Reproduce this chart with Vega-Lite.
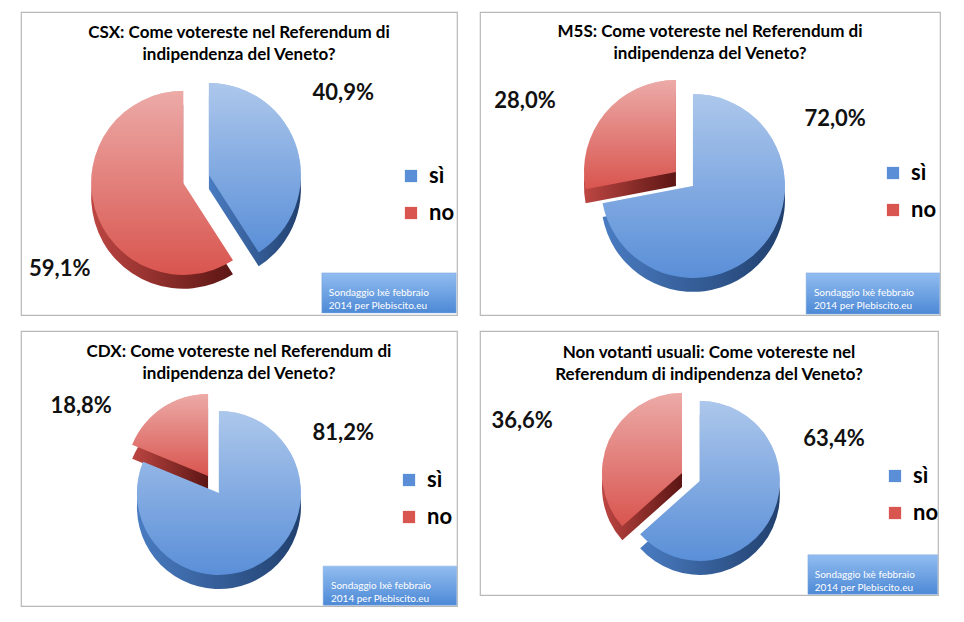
{
  "$schema": "https://vega.github.io/schema/vega-lite/v6.json",
  "background": "white",
  "padding": {"left": 20, "top": 11, "right": 4, "bottom": 4},
  "columns": 2,
  "spacing": {"row": 14, "column": 21},
  "resolve": {"scale": {"color": "independent"}, "legend": {"color": "independent"}},
  "concat": [
    {
      "width": 436,
      "height": 303,
      "data": {"values": [{"answer": "sì", "value": 0.409}, {"answer": "no", "value": 0.591}]},
      "transform": [{"stack": "value", "groupby": [], "sort": [{"field": "answer", "order": "descending"}], "as": ["t0", "t1"]}],
      "layer": [
        {
          "transform": [{"filter": "datum.answer === 'no'"}],
          "encoding": {
            "x": {"datum": 37.2, "type": "quantitative", "scale": {"domain": [0, 100]}},
            "theta": {"field": "t0", "type": "quantitative", "scale": {"domain": [0, 1]}},
            "theta2": {"field": "t1"}
          },
          "layer": [
            {"mark": {"type": "arc", "radius": 92, "fill": {"gradient": "linear", "x1": 0, "y1": 0, "x2": 1, "y2": 0, "stops": [{"offset": 0, "color": "#bd4642"}, {"offset": 1, "color": "#5c1614"}]}},
             "encoding": {"y": {"datum": 61.0, "type": "quantitative", "scale": {"domain": [0, 100], "reverse": true}}}},
            {"mark": {"type": "arc", "radius": 92},
             "encoding": {"y": {"datum": 56.4, "type": "quantitative"},
               "color": {"field": "answer", "type": "nominal", "scale": {"domain": ["sì", "no"], "range": ["#5a8fd8", "#d9554f"]}, "legend": {"orient": "none", "legendX": 379, "legendY": 153}}}},
            {"mark": {"type": "arc", "radius": 92, "fill": {"gradient": "linear", "x1": 0, "y1": 0, "x2": 0, "y2": 1, "stops": [{"offset": 0, "color": "rgba(255,255,255,0.5)"}, {"offset": 1, "color": "rgba(255,255,255,0)"}]}},
             "encoding": {"y": {"datum": 56.4, "type": "quantitative"}}}
          ]
        },
        {
          "transform": [{"filter": "datum.answer === 'sì'"}],
          "encoding": {
            "x": {"datum": 43.1, "type": "quantitative"},
            "theta": {"field": "t0", "type": "quantitative"},
            "theta2": {"field": "t1"}
          },
          "layer": [
            {"mark": {"type": "arc", "radius": 92, "fill": {"gradient": "linear", "x1": 0, "y1": 0, "x2": 1, "y2": 0, "stops": [{"offset": 0, "color": "#4a7cc2"}, {"offset": 1, "color": "#21406e"}]}},
             "encoding": {"y": {"datum": 58.4, "type": "quantitative"}}},
            {"mark": {"type": "arc", "radius": 92},
             "encoding": {"y": {"datum": 53.8, "type": "quantitative"},
               "color": {"field": "answer", "type": "nominal", "scale": {"domain": ["sì", "no"], "range": ["#5a8fd8", "#d9554f"]}, "legend": {"orient": "none", "legendX": 379, "legendY": 153}}}},
            {"mark": {"type": "arc", "radius": 92, "fill": {"gradient": "linear", "x1": 0, "y1": 0, "x2": 0, "y2": 1, "stops": [{"offset": 0, "color": "rgba(255,255,255,0.5)"}, {"offset": 1, "color": "rgba(255,255,255,0)"}]}},
             "encoding": {"y": {"datum": 53.8, "type": "quantitative"}}}
          ]
        },
        {
          "transform": [{"filter": "datum.answer === 'sì'"}],
          "mark": {"type": "text", "text": ["CSX: Come votereste nel Referendum di", "indipendenza del Veneto?"], "align": "center", "baseline": "top", "fontSize": 17, "fontWeight": "bold", "lineHeight": 22, "fill": "#000000"},
          "encoding": {"x": {"datum": 50, "type": "quantitative"}, "y": {"datum": 4.3, "type": "quantitative"}}
        },
        {
          "transform": [{"filter": "datum.answer === 'sì'"}],
          "mark": {"type": "text", "fontSize": 22, "fontWeight": "bold", "fill": "#111"},
          "encoding": {"x": {"datum": 73.9, "type": "quantitative"}, "y": {"datum": 26.7, "type": "quantitative"}, "text": {"field": "value", "format": ".1%"}}
        },
        {
          "transform": [{"filter": "datum.answer === 'no'"}],
          "mark": {"type": "text", "fontSize": 22, "fontWeight": "bold", "fill": "#111"},
          "encoding": {"x": {"datum": 8.9, "type": "quantitative"}, "y": {"datum": 84.8, "type": "quantitative"}, "text": {"field": "value", "format": ".1%"}}
        },
        {
          "transform": [{"filter": "datum.answer === 'sì'"}],
          "mark": {"type": "rect", "stroke": "#7fa9df", "strokeWidth": 0.5, "fill": {"gradient": "linear", "x1": 0, "y1": 0, "x2": 0, "y2": 1, "stops": [{"offset": 0, "color": "#92bdf0"}, {"offset": 1, "color": "#4d89d6"}]}},
          "encoding": {"x": {"datum": 69.0, "type": "quantitative"}, "x2": {"datum": 99.8}, "y": {"datum": 86.1, "type": "quantitative"}, "y2": {"datum": 99.3}}
        },
        {
          "transform": [{"filter": "datum.answer === 'sì'"}],
          "mark": {"type": "text", "text": ["Sondaggio Ixè febbraio", "2014 per Plebiscito.eu"], "align": "left", "baseline": "middle", "fontSize": 10, "lineHeight": 13, "fill": "#ffffff"},
          "encoding": {"x": {"datum": 70.6, "type": "quantitative"}, "y": {"datum": 92.7, "type": "quantitative"}}
        }
      ]
    },
    {
      "width": 460,
      "height": 303,
      "data": {"values": [{"answer": "sì", "value": 0.72}, {"answer": "no", "value": 0.28}]},
      "transform": [{"stack": "value", "groupby": [], "sort": [{"field": "answer", "order": "descending"}], "as": ["t0", "t1"]}],
      "layer": [
        {
          "transform": [{"filter": "datum.answer === 'no'"}],
          "encoding": {
            "x": {"datum": 42.6, "type": "quantitative", "scale": {"domain": [0, 100]}},
            "theta": {"field": "t0", "type": "quantitative", "scale": {"domain": [0, 1]}},
            "theta2": {"field": "t1"}
          },
          "layer": [
            {"mark": {"type": "arc", "radius": 92, "fill": {"gradient": "linear", "x1": 0, "y1": 0, "x2": 1, "y2": 0, "stops": [{"offset": 0, "color": "#bd4642"}, {"offset": 1, "color": "#5c1614"}]}},
             "encoding": {"y": {"datum": 57.4, "type": "quantitative", "scale": {"domain": [0, 100], "reverse": true}}}},
            {"mark": {"type": "arc", "radius": 92},
             "encoding": {"y": {"datum": 52.8, "type": "quantitative"},
               "color": {"field": "answer", "type": "nominal", "scale": {"domain": ["sì", "no"], "range": ["#5a8fd8", "#d9554f"]}, "legend": {"orient": "none", "legendX": 402, "legendY": 150}}}},
            {"mark": {"type": "arc", "radius": 92, "fill": {"gradient": "linear", "x1": 0, "y1": 0, "x2": 0, "y2": 1, "stops": [{"offset": 0, "color": "rgba(255,255,255,0.5)"}, {"offset": 1, "color": "rgba(255,255,255,0)"}]}},
             "encoding": {"y": {"datum": 52.8, "type": "quantitative"}}}
          ]
        },
        {
          "transform": [{"filter": "datum.answer === 'sì'"}],
          "encoding": {
            "x": {"datum": 46.3, "type": "quantitative"},
            "theta": {"field": "t0", "type": "quantitative"},
            "theta2": {"field": "t1"}
          },
          "layer": [
            {"mark": {"type": "arc", "radius": 92, "fill": {"gradient": "linear", "x1": 0, "y1": 0, "x2": 1, "y2": 0, "stops": [{"offset": 0, "color": "#4a7cc2"}, {"offset": 1, "color": "#21406e"}]}},
             "encoding": {"y": {"datum": 62.0, "type": "quantitative"}}},
            {"mark": {"type": "arc", "radius": 92},
             "encoding": {"y": {"datum": 57.4, "type": "quantitative"},
               "color": {"field": "answer", "type": "nominal", "scale": {"domain": ["sì", "no"], "range": ["#5a8fd8", "#d9554f"]}, "legend": {"orient": "none", "legendX": 402, "legendY": 150}}}},
            {"mark": {"type": "arc", "radius": 92, "fill": {"gradient": "linear", "x1": 0, "y1": 0, "x2": 0, "y2": 1, "stops": [{"offset": 0, "color": "rgba(255,255,255,0.5)"}, {"offset": 1, "color": "rgba(255,255,255,0)"}]}},
             "encoding": {"y": {"datum": 57.4, "type": "quantitative"}}}
          ]
        },
        {
          "transform": [{"filter": "datum.answer === 'sì'"}],
          "mark": {"type": "text", "text": ["M5S: Come votereste nel Referendum di", "indipendenza del Veneto?"], "align": "center", "baseline": "top", "fontSize": 17, "fontWeight": "bold", "lineHeight": 22, "fill": "#000000"},
          "encoding": {"x": {"datum": 50, "type": "quantitative"}, "y": {"datum": 4.0, "type": "quantitative"}}
        },
        {
          "transform": [{"filter": "datum.answer === 'sì'"}],
          "mark": {"type": "text", "fontSize": 22, "fontWeight": "bold", "fill": "#111"},
          "encoding": {"x": {"datum": 77.2, "type": "quantitative"}, "y": {"datum": 35.3, "type": "quantitative"}, "text": {"field": "value", "format": ".1%"}}
        },
        {
          "transform": [{"filter": "datum.answer === 'no'"}],
          "mark": {"type": "text", "fontSize": 22, "fontWeight": "bold", "fill": "#111"},
          "encoding": {"x": {"datum": 9.8, "type": "quantitative"}, "y": {"datum": 29.4, "type": "quantitative"}, "text": {"field": "value", "format": ".1%"}}
        },
        {
          "transform": [{"filter": "datum.answer === 'sì'"}],
          "mark": {"type": "rect", "stroke": "#7fa9df", "strokeWidth": 0.5, "fill": {"gradient": "linear", "x1": 0, "y1": 0, "x2": 0, "y2": 1, "stops": [{"offset": 0, "color": "#92bdf0"}, {"offset": 1, "color": "#4d89d6"}]}},
          "encoding": {"x": {"datum": 70.9, "type": "quantitative"}, "x2": {"datum": 99.9}, "y": {"datum": 86.1, "type": "quantitative"}, "y2": {"datum": 99.7}}
        },
        {
          "transform": [{"filter": "datum.answer === 'sì'"}],
          "mark": {"type": "text", "text": ["Sondaggio Ixè febbraio", "2014 per Plebiscito.eu"], "align": "left", "baseline": "middle", "fontSize": 10, "lineHeight": 13, "fill": "#ffffff"},
          "encoding": {"x": {"datum": 72.6, "type": "quantitative"}, "y": {"datum": 92.9, "type": "quantitative"}}
        }
      ]
    },
    {
      "width": 436,
      "height": 275,
      "data": {"values": [{"answer": "sì", "value": 0.812}, {"answer": "no", "value": 0.188}]},
      "transform": [{"stack": "value", "groupby": [], "sort": [{"field": "answer", "order": "descending"}], "as": ["t0", "t1"]}],
      "layer": [
        {
          "transform": [{"filter": "datum.answer === 'no'"}],
          "encoding": {
            "x": {"datum": 42.9, "type": "quantitative", "scale": {"domain": [0, 100]}},
            "theta": {"field": "t0", "type": "quantitative", "scale": {"domain": [0, 1]}},
            "theta2": {"field": "t1"}
          },
          "layer": [
            {"mark": {"type": "arc", "radius": 82, "fill": {"gradient": "linear", "x1": 0, "y1": 0, "x2": 1, "y2": 0, "stops": [{"offset": 0, "color": "#bd4642"}, {"offset": 1, "color": "#5c1614"}]}},
             "encoding": {"y": {"datum": 57.8, "type": "quantitative", "scale": {"domain": [0, 100], "reverse": true}}}},
            {"mark": {"type": "arc", "radius": 82},
             "encoding": {"y": {"datum": 52.7, "type": "quantitative"},
               "color": {"field": "answer", "type": "nominal", "scale": {"domain": ["sì", "no"], "range": ["#5a8fd8", "#d9554f"]}, "legend": {"orient": "none", "legendX": 377, "legendY": 138}}}},
            {"mark": {"type": "arc", "radius": 82, "fill": {"gradient": "linear", "x1": 0, "y1": 0, "x2": 0, "y2": 1, "stops": [{"offset": 0, "color": "rgba(255,255,255,0.5)"}, {"offset": 1, "color": "rgba(255,255,255,0)"}]}},
             "encoding": {"y": {"datum": 52.7, "type": "quantitative"}}}
          ]
        },
        {
          "transform": [{"filter": "datum.answer === 'sì'"}],
          "encoding": {
            "x": {"datum": 45.4, "type": "quantitative"},
            "theta": {"field": "t0", "type": "quantitative"},
            "theta2": {"field": "t1"}
          },
          "layer": [
            {"mark": {"type": "arc", "radius": 82, "fill": {"gradient": "linear", "x1": 0, "y1": 0, "x2": 1, "y2": 0, "stops": [{"offset": 0, "color": "#4a7cc2"}, {"offset": 1, "color": "#21406e"}]}},
             "encoding": {"y": {"datum": 64.0, "type": "quantitative"}}},
            {"mark": {"type": "arc", "radius": 82},
             "encoding": {"y": {"datum": 58.9, "type": "quantitative"},
               "color": {"field": "answer", "type": "nominal", "scale": {"domain": ["sì", "no"], "range": ["#5a8fd8", "#d9554f"]}, "legend": {"orient": "none", "legendX": 377, "legendY": 138}}}},
            {"mark": {"type": "arc", "radius": 82, "fill": {"gradient": "linear", "x1": 0, "y1": 0, "x2": 0, "y2": 1, "stops": [{"offset": 0, "color": "rgba(255,255,255,0.5)"}, {"offset": 1, "color": "rgba(255,255,255,0)"}]}},
             "encoding": {"y": {"datum": 58.9, "type": "quantitative"}}}
          ]
        },
        {
          "transform": [{"filter": "datum.answer === 'sì'"}],
          "mark": {"type": "text", "text": ["CDX: Come votereste nel Referendum di", "indipendenza del Veneto?"], "align": "center", "baseline": "top", "fontSize": 17, "fontWeight": "bold", "lineHeight": 22, "fill": "#000000"},
          "encoding": {"x": {"datum": 50, "type": "quantitative"}, "y": {"datum": 4.7, "type": "quantitative"}}
        },
        {
          "transform": [{"filter": "datum.answer === 'sì'"}],
          "mark": {"type": "text", "fontSize": 22, "fontWeight": "bold", "fill": "#111"},
          "encoding": {"x": {"datum": 73.9, "type": "quantitative"}, "y": {"datum": 37.1, "type": "quantitative"}, "text": {"field": "value", "format": ".1%"}}
        },
        {
          "transform": [{"filter": "datum.answer === 'no'"}],
          "mark": {"type": "text", "fontSize": 22, "fontWeight": "bold", "fill": "#111"},
          "encoding": {"x": {"datum": 13.8, "type": "quantitative"}, "y": {"datum": 27.3, "type": "quantitative"}, "text": {"field": "value", "format": ".1%"}}
        },
        {
          "transform": [{"filter": "datum.answer === 'sì'"}],
          "mark": {"type": "rect", "stroke": "#7fa9df", "strokeWidth": 0.5, "fill": {"gradient": "linear", "x1": 0, "y1": 0, "x2": 0, "y2": 1, "stops": [{"offset": 0, "color": "#92bdf0"}, {"offset": 1, "color": "#4d89d6"}]}},
          "encoding": {"x": {"datum": 69.3, "type": "quantitative"}, "x2": {"datum": 99.9}, "y": {"datum": 85.5, "type": "quantitative"}, "y2": {"datum": 99.7}}
        },
        {
          "transform": [{"filter": "datum.answer === 'sì'"}],
          "mark": {"type": "text", "text": ["Sondaggio Ixè febbraio", "2014 per Plebiscito.eu"], "align": "left", "baseline": "middle", "fontSize": 10, "lineHeight": 13, "fill": "#ffffff"},
          "encoding": {"x": {"datum": 71.1, "type": "quantitative"}, "y": {"datum": 92.6, "type": "quantitative"}}
        }
      ]
    },
    {
      "width": 458,
      "height": 264,
      "data": {"values": [{"answer": "sì", "value": 0.634}, {"answer": "no", "value": 0.366}]},
      "transform": [{"stack": "value", "groupby": [], "sort": [{"field": "answer", "order": "descending"}], "as": ["t0", "t1"]}],
      "layer": [
        {
          "transform": [{"filter": "datum.answer === 'no'"}],
          "encoding": {
            "x": {"datum": 44.1, "type": "quantitative", "scale": {"domain": [0, 100]}},
            "theta": {"field": "t0", "type": "quantitative", "scale": {"domain": [0, 1]}},
            "theta2": {"field": "t1"}
          },
          "layer": [
            {"mark": {"type": "arc", "radius": 80, "fill": {"gradient": "linear", "x1": 0, "y1": 0, "x2": 1, "y2": 0, "stops": [{"offset": 0, "color": "#bd4642"}, {"offset": 1, "color": "#5c1614"}]}},
             "encoding": {"y": {"datum": 59.1, "type": "quantitative", "scale": {"domain": [0, 100], "reverse": true}}}},
            {"mark": {"type": "arc", "radius": 80},
             "encoding": {"y": {"datum": 53.8, "type": "quantitative"},
               "color": {"field": "answer", "type": "nominal", "scale": {"domain": ["sì", "no"], "range": ["#5a8fd8", "#d9554f"]}, "legend": {"orient": "none", "legendX": 404, "legendY": 134}}}},
            {"mark": {"type": "arc", "radius": 80, "fill": {"gradient": "linear", "x1": 0, "y1": 0, "x2": 0, "y2": 1, "stops": [{"offset": 0, "color": "rgba(255,255,255,0.5)"}, {"offset": 1, "color": "rgba(255,255,255,0)"}]}},
             "encoding": {"y": {"datum": 53.8, "type": "quantitative"}}}
          ]
        },
        {
          "transform": [{"filter": "datum.answer === 'sì'"}],
          "encoding": {
            "x": {"datum": 48.0, "type": "quantitative"},
            "theta": {"field": "t0", "type": "quantitative"},
            "theta2": {"field": "t1"}
          },
          "layer": [
            {"mark": {"type": "arc", "radius": 80, "fill": {"gradient": "linear", "x1": 0, "y1": 0, "x2": 1, "y2": 0, "stops": [{"offset": 0, "color": "#4a7cc2"}, {"offset": 1, "color": "#21406e"}]}},
             "encoding": {"y": {"datum": 62.1, "type": "quantitative"}}},
            {"mark": {"type": "arc", "radius": 80},
             "encoding": {"y": {"datum": 56.8, "type": "quantitative"},
               "color": {"field": "answer", "type": "nominal", "scale": {"domain": ["sì", "no"], "range": ["#5a8fd8", "#d9554f"]}, "legend": {"orient": "none", "legendX": 404, "legendY": 134}}}},
            {"mark": {"type": "arc", "radius": 80, "fill": {"gradient": "linear", "x1": 0, "y1": 0, "x2": 0, "y2": 1, "stops": [{"offset": 0, "color": "rgba(255,255,255,0.5)"}, {"offset": 1, "color": "rgba(255,255,255,0)"}]}},
             "encoding": {"y": {"datum": 56.8, "type": "quantitative"}}}
          ]
        },
        {
          "transform": [{"filter": "datum.answer === 'sì'"}],
          "mark": {"type": "text", "text": ["Non votanti usuali: Come votereste nel", "Referendum di indipendenza del Veneto?"], "align": "center", "baseline": "top", "fontSize": 17, "fontWeight": "bold", "lineHeight": 22, "fill": "#000000"},
          "encoding": {"x": {"datum": 50, "type": "quantitative"}, "y": {"datum": 5.3, "type": "quantitative"}}
        },
        {
          "transform": [{"filter": "datum.answer === 'sì'"}],
          "mark": {"type": "text", "fontSize": 22, "fontWeight": "bold", "fill": "#111"},
          "encoding": {"x": {"datum": 77.3, "type": "quantitative"}, "y": {"datum": 40.9, "type": "quantitative"}, "text": {"field": "value", "format": ".1%"}}
        },
        {
          "transform": [{"filter": "datum.answer === 'no'"}],
          "mark": {"type": "text", "fontSize": 22, "fontWeight": "bold", "fill": "#111"},
          "encoding": {"x": {"datum": 9.2, "type": "quantitative"}, "y": {"datum": 34.1, "type": "quantitative"}, "text": {"field": "value", "format": ".1%"}}
        },
        {
          "transform": [{"filter": "datum.answer === 'sì'"}],
          "mark": {"type": "rect", "stroke": "#7fa9df", "strokeWidth": 0.5, "fill": {"gradient": "linear", "x1": 0, "y1": 0, "x2": 0, "y2": 1, "stops": [{"offset": 0, "color": "#92bdf0"}, {"offset": 1, "color": "#4d89d6"}]}},
          "encoding": {"x": {"datum": 71.6, "type": "quantitative"}, "x2": {"datum": 99.9}, "y": {"datum": 84.8, "type": "quantitative"}, "y2": {"datum": 99.7}}
        },
        {
          "transform": [{"filter": "datum.answer === 'sì'"}],
          "mark": {"type": "text", "text": ["Sondaggio Ixè febbraio", "2014 per Plebiscito.eu"], "align": "left", "baseline": "middle", "fontSize": 10, "lineHeight": 13, "fill": "#ffffff"},
          "encoding": {"x": {"datum": 73.1, "type": "quantitative"}, "y": {"datum": 92.3, "type": "quantitative"}}
        }
      ]
    }
  ],
  "config": {
    "font": "Lato",
    "view": {"stroke": "#b8b8b8", "strokeWidth": 1.2},
    "axis": {"disable": true},
    "legend": {"title": null, "labelFont": "Lato", "labelFontSize": 22, "labelFontWeight": "bold", "labelColor": "#000000", "symbolType": "square", "symbolSize": 150, "symbolStrokeWidth": 0, "rowPadding": 15, "labelOffset": 7, "padding": 0},
    "locale": {"number": {"decimal": ",", "thousands": ".", "grouping": [3], "currency": ["€", ""]}}
  }
}
